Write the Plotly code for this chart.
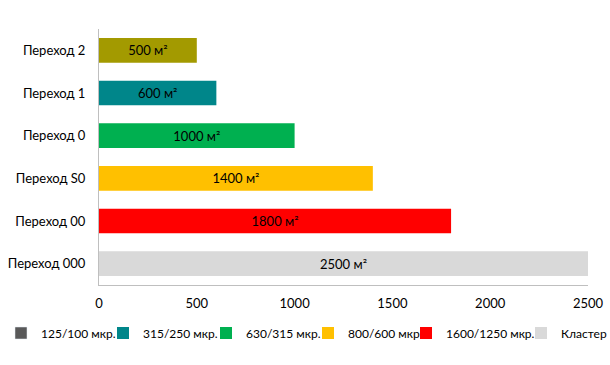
import plotly.graph_objects as go

categories = ["Переход 2", "Переход 1", "Переход 0", "Переход S0", "Переход 00", "Переход 000"]
values = [500, 600, 1000, 1400, 1800, 2500]
series_names = ["125/100 мкр.", "315/250 мкр.", "630/315 мкр.", "800/600 мкр", "1600/1250 мкр.", "Кластер"]
bar_colors = ["#A39A00", "#00868A", "#00B050", "#FFC000", "#FF0000", "#D9D9D9"]
legend_colors = ["#595959", "#00868A", "#00B050", "#FFC000", "#FF0000", "#D9D9D9"]
x_ticks = [0, 500, 1000, 1500, 2000, 2500]

W, H = 610, 365
FONT = "Lato"
legend_px = [1, 103, 206, 308, 406, 521]  # left edge of each legend item (px)

fig = go.Figure()
for i, (cat, val, name) in enumerate(zip(categories, values, series_names)):
    lname = "legend" if i == 0 else f"legend{i + 1}"
    same = bar_colors[i] == legend_colors[i]
    fig.add_trace(go.Bar(
        y=[cat], x=[val], orientation="h", name=name,
        marker=dict(color=bar_colors[i], line=dict(width=0)),
        width=0.58,
        text=[f"{val} м²"], textposition="inside", insidetextanchor="middle",
        textfont=dict(color="black", size=13, family=FONT),
        showlegend=same, legend=lname,
    ))
    if not same:
        fig.add_trace(go.Bar(
            y=[None], x=[None], orientation="h", name=name,
            marker=dict(color=legend_colors[i]), showlegend=True, legend=lname,
        ))

legends = {}
for i, px in enumerate(legend_px):
    lname = "legend" if i == 0 else f"legend{i + 1}"
    legends[lname] = dict(
        xref="container", yref="container",
        x=px / W, xanchor="left", y=1 - 333 / H, yanchor="middle",
        orientation="h", font=dict(size=12, family=FONT, color="black"),
        bgcolor="rgba(0,0,0,0)", borderwidth=0, itemwidth=30,
    )

fig.update_layout(
    width=W, height=H,
    margin=dict(l=99, r=22, t=29, b=80, autoexpand=False),
    barmode="overlay",
    plot_bgcolor="white", paper_bgcolor="white",
    font=dict(family=FONT, size=13, color="black"),
    showlegend=True,
    xaxis=dict(range=[0, 2500], tickvals=x_ticks, showgrid=False, zeroline=False,
               showline=True, linecolor="#BFBFBF", linewidth=1, ticks="",
               ticklabelstandoff=6, tickfont=dict(size=13), automargin=False),
    yaxis=dict(categoryorder="array", categoryarray=categories[::-1],
               showgrid=False, showline=True, linecolor="#BFBFBF", linewidth=1,
               ticks="", ticklabelstandoff=10, tickfont=dict(size=13), automargin=False),
    **legends,
)

fig.write_html("out.html", config={"displayModeBar": False},
               post_script="document.body.style.margin='0';")
